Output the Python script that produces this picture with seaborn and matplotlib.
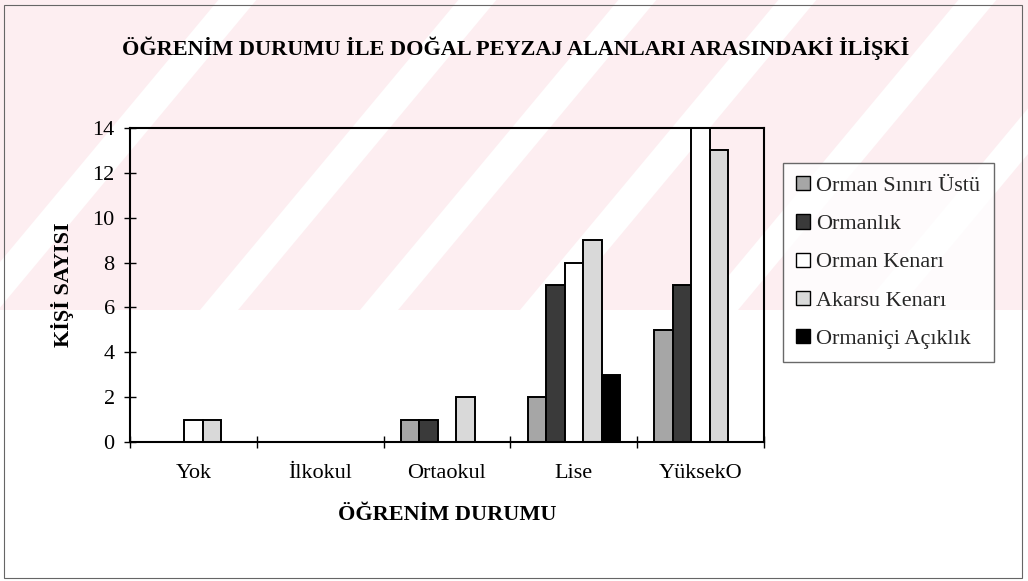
import numpy as np
import pandas as pd
import matplotlib
matplotlib.use('Agg')
import matplotlib.pyplot as plt
from matplotlib.patches import Rectangle, Polygon, Patch
import seaborn as sns

# ---- data ----
categories = ['Yok', 'İlkokul', 'Ortaokul', 'Lise', 'YüksekO']
series = ['Orman Sınırı Üstü', 'Ormanlık', 'Orman Kenarı', 'Akarsu Kenarı', 'Ormaniçi Açıklık']
orman_siniri_ustu = [0, 0, 1, 2, 5]
ormanlik = [0, 0, 1, 7, 7]
orman_kenari = [1, 0, 0, 8, 14]
akarsu_kenari = [1, 0, 2, 9, 13]
ormanici_aciklik = [0, 0, 0, 3, 0]
yticks = [0, 2, 4, 6, 8, 10, 12, 14]

title = 'ÖĞRENİM DURUMU İLE DOĞAL PEYZAJ ALANLARI ARASINDAKİ İLİŞKİ'
xlabel = 'ÖĞRENİM DURUMU'
ylabel = 'KİŞİ SAYISI'

colors = ['#a6a6a6', '#3a3a3a', '#ffffff', '#d9d9d9', '#000000']

values = [orman_siniri_ustu, ormanlik, orman_kenari, akarsu_kenari, ormanici_aciklik]
rows = []
for s, vals in zip(series, values):
    for c, v in zip(categories, vals):
        rows.append({'Öğrenim': c, 'Alan': s, 'Kişi': v})
df = pd.DataFrame(rows)

# ---- style ----
sns.set_theme(style='white')
plt.rcParams['font.family'] = ['Liberation Serif', 'DejaVu Serif']
FS = 16

W, H = 1028, 581
fig = plt.figure(figsize=(W / 100, H / 100), dpi=100)
fig.patch.set_facecolor('white')

# faint scanned watermark (background decoration)
pink = '#fdeef1'
fig.add_artist(Rectangle((0, 1 - 310 / H), 1, 310 / H, transform=fig.transFigure,
                         facecolor=pink, edgecolor='none', zorder=-20))
shift = 310 / 1.2
for xb in [-40, 200, 360, 520, 700, 860]:
    pts = [(xb, 310), (xb + 38, 310), (xb + 38 + shift, 0), (xb + shift, 0)]
    pts = [(x / W, 1 - y / H) for x, y in pts]
    fig.add_artist(Polygon(pts, closed=True, transform=fig.transFigure,
                           facecolor='white', edgecolor='none', zorder=-19))

ax = fig.add_axes([130 / W, 1 - 442 / H, 634 / W, 314 / H])
ax.set_facecolor('none')

sns.barplot(data=df, x='Öğrenim', y='Kişi', hue='Alan', order=categories,
            hue_order=series, palette=colors, width=0.73, saturation=1,
            edgecolor='black', linewidth=1.4, legend=False, ax=ax)

ax.set_ylim(0, 14)
ax.set_xlim(-0.5, len(categories) - 0.5)
ax.set_yticks(yticks)
ax.set_xticks(range(len(categories)))
ax.set_xticklabels(categories)
ax.set_xticks(np.arange(-0.5, len(categories), 1), minor=True)
ax.tick_params(axis='x', which='major', length=0, pad=16, labelsize=FS, colors='black')
ax.tick_params(axis='x', which='minor', bottom=True, direction='inout', length=8, width=1, color='black')
ax.tick_params(axis='y', which='major', left=True, direction='inout', length=8, width=1,
               pad=7, labelsize=FS, colors='black')

for sp in ax.spines.values():
    sp.set_visible(True)
    sp.set_color('black')
    sp.set_linewidth(1.5)

ax.set_xlabel(xlabel, fontsize=FS, fontweight='bold', color='black')
ax.xaxis.set_label_coords(0.5, (442 - 505) / 314)
ax.set_ylabel(ylabel, fontsize=FS, fontweight='bold', color='black')
ax.yaxis.set_label_coords((74 - 130) / 634, 0.5)

fig.text(516 / W, 1 - 48 / H, title, ha='center', va='center', fontsize=FS,
         fontweight='bold', color='black')

handles = [Patch(facecolor=c, edgecolor='black', linewidth=1.0) for c in colors]
leg = fig.legend(handles, series, loc='upper left', bbox_to_anchor=(783 / W, 1 - 163 / H),
                 bbox_transform=fig.transFigure, fontsize=FS, frameon=True, fancybox=False,
                 shadow=False, borderpad=0.6, labelspacing=0.82, handlelength=0.6,
                 handleheight=0.6, handletextpad=0.3, borderaxespad=0)
leg.get_frame().set_edgecolor('#444444')
leg.get_frame().set_linewidth(1.0)
leg.get_frame().set_facecolor('white')

# outer border of the chart area
fig.add_artist(Rectangle((4 / W, 3 / H), 1018 / W, 573 / H, transform=fig.transFigure,
                         fill=False, edgecolor='#666666', linewidth=0.8))

fig.savefig('out.png', dpi=100)
